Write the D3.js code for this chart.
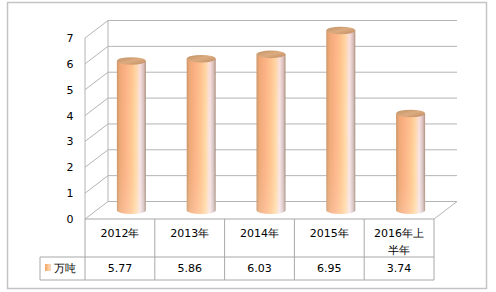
<!DOCTYPE html>
<html><head><meta charset="utf-8">
<script src="https://cdn.jsdelivr.net/npm/d3@7"></script>
<style>
html,body{margin:0;padding:0;background:#fff;}
svg{display:block;}
text{font-family:"DejaVu Sans",sans-serif;font-size:11px;fill:#000;}
</style></head>
<body><svg id="c" width="496" height="292"></svg>
<script>
const categories = ["2012年","2013年","2014年","2015年","2016年上半年"];
const seriesName = "万吨";
const values = [5.77, 5.86, 6.03, 6.95, 3.74];
const valueLabels = ["5.77","5.86","6.03","6.95","3.74"];
const yTicks = [0,1,2,3,4,5,6,7];

const svg = d3.select("#c");
const left = 85, right = 434, zeroY = 219, topY = 38;
const dx = 23, dy = -17.5;
const gridC = "#b4b4b4", tableC = "#a8a8a8";

svg.append("rect").attr("x",7.5).attr("y",2.5).attr("width",479).attr("height",286)
  .attr("fill","#fff").attr("stroke","#c4c4c4").attr("stroke-width",1.5);

const x = d3.scaleBand().domain(categories).range([left,right]).padding(0);
const y = d3.scaleLinear().domain([0,7]).range([zeroY, topY]);

const defs = svg.append("defs");
const g1 = defs.append("linearGradient").attr("id","cyl").attr("x1",0).attr("x2",1).attr("y1",0).attr("y2",0);
[[0,"#c8966a"],[0.1,"#eeaa76"],[0.3,"#fcb488"],[0.5,"#ffc792"],[0.66,"#ffdcaa"],[0.8,"#f8e6ea"],[0.92,"#d6c4c4"],[1,"#a89080"]]
  .forEach(s=>g1.append("stop").attr("offset",s[0]).attr("stop-color",s[1]));
const g2 = defs.append("linearGradient").attr("id","cylv").attr("x1",0).attr("x2",0).attr("y1",0).attr("y2",1);
[[0,"#ff9a70",0.12],[0.55,"#ffb080",0.0],[1,"#ffffff",0.15]]
  .forEach(s=>g2.append("stop").attr("offset",s[0]).attr("stop-color",s[1]).attr("stop-opacity",s[2]));
const g3 = defs.append("linearGradient").attr("id","topg").attr("x1",0).attr("x2",1).attr("y1",0).attr("y2",1);
[[0,"#c09066"],[0.5,"#dcac80"],[1,"#c08c64"]]
  .forEach(s=>g3.append("stop").attr("offset",s[0]).attr("stop-color",s[1]));
const g4 = defs.append("linearGradient").attr("id","leg").attr("x1",0).attr("x2",1);
[[0,"#f0a064"],[0.5,"#ffc890"],[1,"#f8d8c8"]]
  .forEach(s=>g4.append("stop").attr("offset",s[0]).attr("stop-color",s[1]));

const grid = svg.append("g").attr("fill","none").attr("stroke",gridC).attr("stroke-width",1);
yTicks.forEach(t=>{
  const yf = y(t), yb = y(t)+dy;
  if (t>0) grid.append("line").attr("x1",left+dx).attr("x2",right+dx).attr("y1",yb).attr("y2",yb);
  grid.append("line").attr("x1",left).attr("y1",yf).attr("x2",left+dx).attr("y2",yb);
});
grid.append("line").attr("x1",left+dx).attr("x2",left+dx).attr("y1",y(7)+dy).attr("y2",y(0)+dy);
grid.append("line").attr("x1",left).attr("x2",left).attr("y1",y(7)).attr("y2",y(0));
grid.append("line").attr("x1",left+dx).attr("x2",right+dx).attr("y1",y(0)+dy).attr("y2",y(0)+dy);
grid.append("line").attr("x1",right).attr("y1",y(0)).attr("x2",right+dx).attr("y2",y(0)+dy);

const ax = svg.append("g").attr("transform",`translate(${left},0)`)
  .call(d3.axisLeft(y).tickValues(yTicks).tickSize(0).tickPadding(12).tickFormat(d3.format("d")));
ax.select(".domain").remove();
ax.selectAll("text").attr("text-anchor","middle").attr("x",-15)
  .style("font-family","DejaVu Sans").style("font-size","11px").attr("fill","#000");

const rx = 14.5, ry = 3.8;
const bars = svg.append("g");
categories.forEach((c,i)=>{
  const cx = x(c)+x.bandwidth()/2 + dx/2;
  const yb = y(0)+dy/2, yt = y(values[i])+dy/2;
  const path = `M${cx-rx},${yt} L${cx-rx},${yb} A${rx},${ry} 0 0 0 ${cx+rx},${yb} L${cx+rx},${yt} Z`;
  bars.append("path").attr("d",path).attr("fill","url(#cyl)");
  bars.append("path").attr("d",path).attr("fill","url(#cylv)");
  bars.append("ellipse").attr("cx",cx).attr("cy",yt).attr("rx",rx).attr("ry",ry).attr("fill","url(#topg)");
});

const tbl = svg.append("g").attr("fill","none").attr("stroke",tableC).attr("stroke-width",1);
const rowTop = 219, rowMid = 257, rowBot = 280, legLeft = 40;
tbl.append("line").attr("x1",left).attr("x2",right).attr("y1",rowTop).attr("y2",rowTop);
tbl.append("line").attr("x1",legLeft).attr("x2",right).attr("y1",rowMid).attr("y2",rowMid);
tbl.append("line").attr("x1",legLeft).attr("x2",right).attr("y1",rowBot).attr("y2",rowBot);
tbl.append("line").attr("x1",legLeft).attr("x2",legLeft).attr("y1",rowMid).attr("y2",rowBot);
categories.forEach(c=>{
  tbl.append("line").attr("x1",x(c)).attr("x2",x(c)).attr("y1",rowTop).attr("y2",rowBot);
});
tbl.append("line").attr("x1",right).attr("x2",right).attr("y1",rowTop).attr("y2",rowBot);

const txt = svg.append("g");
categories.forEach((c,i)=>{
  const cx = x(c)+x.bandwidth()/2;
  const t = txt.append("text").attr("text-anchor","middle");
  const maxW = x.bandwidth()-12;
  let lines = [], cur = "";
  const probe = txt.append("text");
  for (const ch of c) {
    probe.text(cur+ch);
    if (probe.node().getComputedTextLength() > maxW && cur) { lines.push(cur); cur = ch; }
    else cur += ch;
  }
  lines.push(cur);
  probe.remove();
  lines.forEach((l,k)=>{
    t.append("tspan").attr("x",cx).attr("y",237+k*16.5).text(l);
  });
  txt.append("text").attr("text-anchor","middle").attr("x",cx).attr("y",272).text(valueLabels[i]);
});
svg.append("rect").attr("x",45).attr("y",264).attr("width",6).attr("height",7).attr("fill","url(#leg)");
txt.append("text").attr("x",54).attr("y",272).text(seriesName);
</script></body></html>
